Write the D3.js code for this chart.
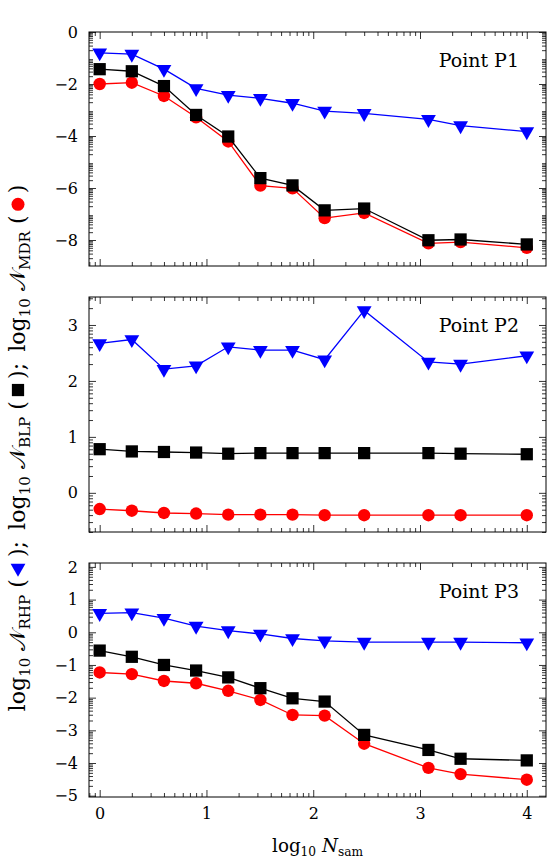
<!DOCTYPE html>
<html>
<head>
<meta charset="utf-8">
<script src="https://cdn.jsdelivr.net/npm/d3@7"></script>
<style>
  body { margin: 0; background: #fff; }
  svg { display: block; }
  .tick text { font-family: "DejaVu Serif", "Liberation Serif", serif; font-size: 16px; fill: #000; }
  .tick line { stroke: #000; stroke-width: 0.8; }
</style>
</head>
<body>
<svg id="chart" width="553" height="861"></svg>
<script>
// log10 of sample count
const xVals = [0, 0.301, 0.602, 0.903, 1.204, 1.505, 1.806, 2.107, 2.477, 3.079, 3.380, 4.0];
const xTicks = [0, 1, 2, 3, 4];

// Point P1
const rhp1 = [-0.80, -0.85, -1.43, -2.17, -2.43, -2.55, -2.74, -3.04, -3.13, -3.36, -3.60, -3.83];
const blp1 = [-1.43, -1.51, -2.08, -3.19, -4.02, -5.62, -5.90, -6.86, -6.79, -8.01, -7.98, -8.17];
const mdr1 = [-2.00, -1.95, -2.46, -3.28, -4.21, -5.91, -6.01, -7.16, -6.96, -8.13, -8.08, -8.30];

// Point P2
const rhp2 = [2.67, 2.74, 2.21, 2.27, 2.61, 2.55, 2.55, 2.38, 3.26, 2.34, 2.30, 2.45];
const blp2 = [0.78, 0.74, 0.73, 0.72, 0.70, 0.71, 0.71, 0.71, 0.71, 0.71, 0.70, 0.69];
const mdr2 = [-0.29, -0.32, -0.36, -0.37, -0.39, -0.39, -0.39, -0.40, -0.40, -0.40, -0.40, -0.40];

// Point P3
const rhp3 = [0.58, 0.60, 0.43, 0.19, 0.05, -0.05, -0.19, -0.26, -0.30, -0.30, -0.30, -0.32];
const blp3 = [-0.56, -0.75, -1.00, -1.17, -1.38, -1.71, -2.02, -2.12, -3.14, -3.60, -3.87, -3.92];
const mdr3 = [-1.23, -1.28, -1.49, -1.56, -1.79, -2.07, -2.53, -2.55, -3.41, -4.15, -4.34, -4.51];

const panelNames = ['Point P1', 'Point P2', 'Point P3'];
const yTicks1 = [0, -2, -4, -6, -8];
const yTicks2 = [0, 1, 2, 3];
const yTicks3 = [2, 1, 0, -1, -2, -3, -4, -5];

const panels = [
  { name: panelNames[0], top: 32, bottom: 266, domain: [-9, 0], ticks: yTicks1, rhp: rhp1, blp: blp1, mdr: mdr1 },
  { name: panelNames[1], top: 297, bottom: 532, domain: [-0.7, 3.5], ticks: yTicks2, rhp: rhp2, blp: blp2, mdr: mdr2 },
  { name: panelNames[2], top: 563, bottom: 797, domain: [-5.04, 2.12], ticks: yTicks3, rhp: rhp3, blp: blp3, mdr: mdr3 }
];

const FONT = '"DejaVu Serif", "Liberation Serif", serif';
const left = 89, right = 546;
const svg = d3.select('#chart');
const x = d3.scaleLinear().domain([-0.1, 4.18]).range([left, right]);

const fmt = d => d < 0 ? '\u2212' + Math.abs(d) : String(d);

// log-style minor ticks between integers
function minorTicks(domain) {
  const out = [];
  for (let k = Math.floor(domain[0]) - 1; k <= Math.ceil(domain[1]); k++) {
    for (let m = 2; m <= 9; m++) {
      const v = k + Math.log10(m);
      if (v > domain[0] && v < domain[1]) out.push(v);
    }
  }
  return out;
}

const tri = d3.symbol().type(d3.symbolTriangle).size(95);
const sq = d3.symbol().type(d3.symbolSquare).size(150);

panels.forEach((p, i) => {
  const y = d3.scaleLinear().domain(p.domain).range([p.bottom, p.top]);
  const h = p.bottom - p.top, w = right - left;
  const g = svg.append('g');

  // major ticks
  g.append('g').attr('transform', `translate(${left},0)`)
    .call(d3.axisLeft(y).tickValues(p.ticks).tickSize(-7).tickPadding(11).tickFormat(fmt));
  g.append('g').attr('transform', `translate(${right},0)`)
    .call(d3.axisRight(y).tickValues(p.ticks).tickSize(-7).tickFormat(''));
  g.append('g').attr('transform', `translate(0,${p.bottom})`)
    .call(d3.axisBottom(x).tickValues(xTicks).tickSize(-7).tickPadding(11)
      .tickFormat(i === 2 ? d3.format('d') : ''));
  g.append('g').attr('transform', `translate(0,${p.top})`)
    .call(d3.axisTop(x).tickValues(xTicks).tickSize(-7).tickFormat(''));

  // minor ticks
  const yMin = minorTicks(p.domain), xMin = minorTicks(x.domain());
  g.append('g').attr('transform', `translate(${left},0)`)
    .call(d3.axisLeft(y).tickValues(yMin).tickSize(-4).tickFormat(''));
  g.append('g').attr('transform', `translate(${right},0)`)
    .call(d3.axisRight(y).tickValues(yMin).tickSize(-4).tickFormat(''));
  g.append('g').attr('transform', `translate(0,${p.bottom})`)
    .call(d3.axisBottom(x).tickValues(xMin).tickSize(-4).tickFormat(''));
  g.append('g').attr('transform', `translate(0,${p.top})`)
    .call(d3.axisTop(x).tickValues(xMin).tickSize(-4).tickFormat(''));

  g.selectAll('.domain').remove();
  g.append('rect').attr('x', left).attr('y', p.top).attr('width', w).attr('height', h)
    .attr('fill', 'none').attr('stroke', '#000').attr('stroke-width', 1);

  const line = vals => d3.line().x((d, j) => x(xVals[j])).y(d => y(d))(vals);

  // red circles (MDR)
  g.append('path').attr('d', line(p.mdr)).attr('fill', 'none').attr('stroke', '#ff0000').attr('stroke-width', 1.3);
  g.selectAll('circle.mdr').data(p.mdr).join('circle').attr('class', 'mdr')
    .attr('cx', (d, j) => x(xVals[j])).attr('cy', d => y(d)).attr('r', 6.2).attr('fill', '#ff0000');

  // black squares (BLP)
  g.append('path').attr('d', line(p.blp)).attr('fill', 'none').attr('stroke', '#000').attr('stroke-width', 1.3);
  g.selectAll('path.blp').data(p.blp).join('path').attr('class', 'blp')
    .attr('d', sq).attr('transform', (d, j) => `translate(${x(xVals[j])},${y(d)})`).attr('fill', '#000');

  // blue triangles (RHP)
  g.append('path').attr('d', line(p.rhp)).attr('fill', 'none').attr('stroke', '#0000ff').attr('stroke-width', 1.3);
  g.selectAll('path.rhp').data(p.rhp).join('path').attr('class', 'rhp')
    .attr('d', tri).attr('transform', (d, j) => `translate(${x(xVals[j])},${y(d)}) rotate(180)`).attr('fill', '#0000ff');

  g.append('text').attr('x', 519).attr('y', p.top + 35)
    .attr('text-anchor', 'end').attr('font-family', FONT).attr('font-size', 19)
    .text(p.name);
});

// x axis label
const xg = svg.append('g');
const xl = xg.append('text').attr('text-anchor', 'middle')
  .attr('font-family', FONT).attr('font-size', 18);
xl.append('tspan').text('log');
xl.append('tspan').attr('font-size', 12).attr('dy', 4).text('10');
xl.append('tspan').attr('dy', -4).text(' ');
xl.append('tspan').attr('font-style', 'italic').text('N');
xl.append('tspan').attr('font-size', 12).attr('dy', 4).text('sam');
const xs = 91 / xl.node().getComputedTextLength();
xg.attr('transform', `translate(${(left + right) / 2},852) scale(${xs})`);

// y axis label, rotated, with gaps where the marker glyphs go
const LX = 25, LY = 448, LLEN = 527;
const yl = svg.append('g');
const yt = yl.append('text').attr('text-anchor', 'middle')
  .attr('font-family', FONT).attr('font-size', 19);
const gap = '\u2003';
const parts = [['RHP', 'tri'], ['BLP', 'sq'], ['MDR', 'dot']];
let idx = 0;
const gapIdx = [];
parts.forEach((pt, k) => {
  const add = (t, attrs) => {
    const s = yt.append('tspan').text(t);
    Object.entries(attrs || {}).forEach(([a, v]) => s.attr(a, v));
    idx += t.length;
    return s;
  };
  add('log');
  add('10', { 'font-size': 13, dy: 4 });
  add(' ', { dy: -4 });
  add('\ud835\udca9');
  add(pt[0], { 'font-size': 13, dy: 4 });
  add(' (', { dy: -4 });
  gapIdx.push([idx, pt[1]]);
  add(gap);
  add(k < 2 ? ');\u2002' : ')');
});
const ys = LLEN / yt.node().getComputedTextLength();
yl.attr('transform', `translate(${LX},${LY}) rotate(-90) scale(${ys})`);

gapIdx.forEach(([ci, kind]) => {
  const node = yt.node();
  const a = node.getStartPositionOfChar(ci).x;
  const b = node.getEndPositionOfChar(ci).x;
  const u = (a + b) / 2 * ys;
  const cx = LX - 7, cy = LY - u;
  if (kind === 'dot') svg.append('circle').attr('cx', cx).attr('cy', cy).attr('r', 6.5).attr('fill', '#ff0000');
  if (kind === 'sq') svg.append('path').attr('d', sq).attr('transform', `translate(${cx},${cy})`).attr('fill', '#000');
  if (kind === 'tri') svg.append('path').attr('d', tri).attr('transform', `translate(${cx},${cy}) rotate(180)`).attr('fill', '#0000ff');
});
</script>
</body>
</html>
